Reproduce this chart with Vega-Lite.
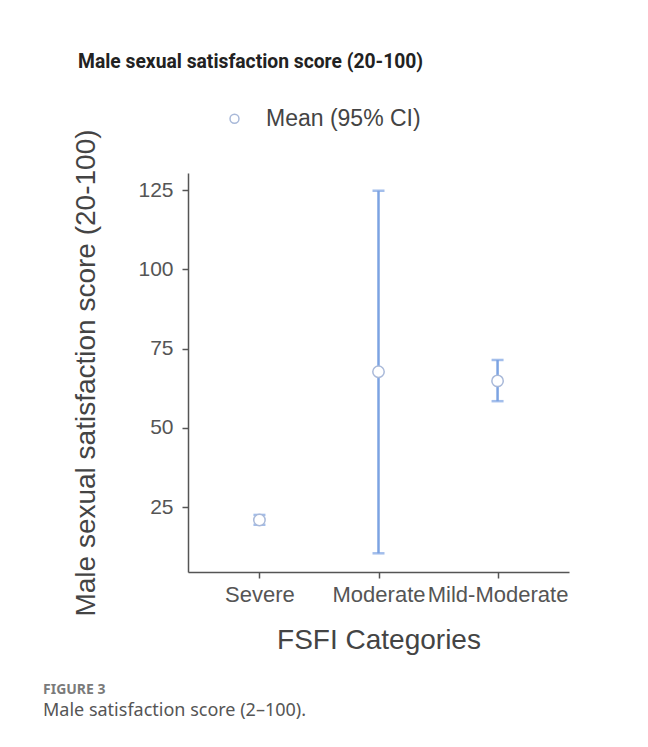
{
  "$schema": "https://vega.github.io/schema/vega-lite/v6.json",
  "autosize": "none",
  "width": 381,
  "height": 399,
  "padding": {"left": 188, "top": 173, "right": 79, "bottom": 175},
  "background": "white",
  "title": {
    "text": "FIGURE 3",
    "subtitle": "Male satisfaction score (2–100).",
    "orient": "bottom",
    "anchor": "start",
    "frame": "group",
    "dx": -145,
    "offset": 29,
    "font": "Noto Sans",
    "fontSize": 14,
    "fontWeight": "bold",
    "color": "#7a7a7a",
    "subtitleFont": "Noto Sans",
    "subtitleFontSize": 18,
    "subtitleColor": "#555555",
    "subtitlePadding": 5
  },
  "config": {
    "view": {"stroke": null},
    "axis": {
      "grid": false,
      "domainColor": "#555555",
      "domainWidth": 1.5,
      "tickColor": "#555555",
      "tickWidth": 1.5,
      "tickSize": 6,
      "labelFont": "Liberation Sans",
      "labelColor": "#555555",
      "titleFont": "Liberation Sans",
      "titleColor": "#444444",
      "titleFontWeight": "normal"
    }
  },
  "data": {
    "values": [
      {"category": "Severe", "mean": 20.9, "lo": 19.4, "hi": 22.5},
      {"category": "Moderate", "mean": 67.7, "lo": 10.4, "hi": 124.8},
      {"category": "Mild-Moderate", "mean": 64.8, "lo": 58.4, "hi": 71.4}
    ]
  },
  "encoding": {
    "x": {
      "field": "category",
      "type": "nominal",
      "sort": ["Severe", "Moderate", "Mild-Moderate"],
      "scale": {"type": "point", "padding": 0.6},
      "axis": {
        "title": "FSFI Categories",
        "labelAngle": 0,
        "labelFontSize": 22,
        "labelPadding": 6,
        "labelOverlap": false,
        "labelBound": false,
        "titleFontSize": 28,
        "titlePadding": 21
      }
    }
  },
  "layer": [
    {
      "mark": {"type": "rule", "color": "#7ca3e2", "strokeWidth": 2.5},
      "encoding": {
        "y": {
          "field": "lo",
          "type": "quantitative",
          "scale": {"domain": [4.5, 130.4], "nice": false, "zero": false},
          "axis": {
            "title": "Male sexual satisfaction score (20-100)",
            "values": [25, 50, 75, 100, 125],
            "labelFontSize": 21,
            "labelPadding": 9,
            "titleFontSize": 28,
            "titlePadding": 37
          }
        },
        "y2": {"field": "hi"}
      }
    },
    {
      "mark": {"type": "tick", "color": "#7ca3e2", "thickness": 2.5, "size": 12},
      "encoding": {"y": {"field": "lo", "type": "quantitative"}}
    },
    {
      "mark": {"type": "tick", "color": "#7ca3e2", "thickness": 2.5, "size": 12},
      "encoding": {"y": {"field": "hi", "type": "quantitative"}}
    },
    {
      "mark": {"type": "point", "shape": "circle", "filled": false, "fill": "white", "fillOpacity": 1, "size": 130, "strokeWidth": 1.5},
      "encoding": {
        "y": {"field": "mean", "type": "quantitative"},
        "color": {
          "datum": "Mean (95% CI)",
          "type": "nominal",
          "scale": {"range": ["#a9b9d9"]},
          "legend": {
            "orient": "none",
            "legendX": -110,
            "legendY": -120,
            "title": "Male sexual satisfaction score (20-100)",
            "titleFont": "Roboto",
            "titleFontSize": 19.3,
            "titleFontWeight": "bold",
            "titleColor": "#222222",
            "titleLimit": 600,
            "titlePadding": 35,
            "symbolOffset": 145,
            "symbolSize": 80,
            "symbolStrokeWidth": 1.5,
            "symbolFillColor": "white",
            "labelFont": "Liberation Sans",
            "labelFontSize": 23,
            "labelColor": "#444444",
            "labelOffset": 20,
            "labelLimit": 400
          }
        }
      }
    }
  ]
}
